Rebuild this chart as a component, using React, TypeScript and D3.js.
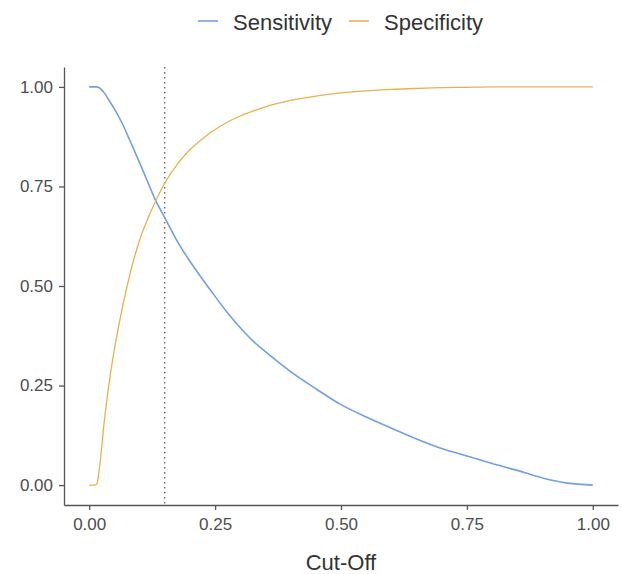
import React, { useEffect, useRef } from 'react';
import * as d3 from 'd3';

// cut-off grid and the two curves
const cutoffs = [0, 0.01, 0.015, 0.02, 0.03, 0.04, 0.05, 0.065, 0.08, 0.1, 0.12, 0.13, 0.15, 0.175, 0.2, 0.225, 0.25, 0.275, 0.3, 0.325, 0.35, 0.4, 0.45, 0.5, 0.55, 0.6, 0.65, 0.7, 0.75, 0.8, 0.85, 0.9, 0.95, 1.0];
const sensitivity = [1.0, 1.0, 1.0, 0.998, 0.985, 0.965, 0.945, 0.91, 0.868, 0.81, 0.75, 0.72, 0.672, 0.612, 0.562, 0.517, 0.474, 0.432, 0.395, 0.362, 0.335, 0.285, 0.242, 0.202, 0.171, 0.143, 0.116, 0.092, 0.073, 0.054, 0.037, 0.018, 0.005, 0.0];
const specificity = [0, 0, 0.002, 0.04, 0.16, 0.26, 0.34, 0.44, 0.525, 0.615, 0.68, 0.708, 0.758, 0.806, 0.842, 0.87, 0.893, 0.912, 0.927, 0.939, 0.95, 0.966, 0.977, 0.985, 0.99, 0.994, 0.996, 0.998, 0.999, 1.0, 1.0, 1.0, 1.0, 1.0];
const ticks = [0, 0.25, 0.5, 0.75, 1.0];
const cutLine = 0.15;

const seriesNames = ['Sensitivity', 'Specificity'];
const colors = ['#739FE3', '#E8B14D'];

export default function App() {
    const ref = useRef<SVGSVGElement>(null);

    useEffect(() => {
        const svg = d3.select(ref.current);
        svg.selectAll('*').remove();

        const left = 64, right = 618, top = 67, bottom = 505;
        const font = '"Liberation Sans", Arial, sans-serif';
        const axisColor = '#555';
        const textColor = '#4d4d4d';

        const x = d3.scaleLinear().domain([-0.05, 1.05]).range([left, right]);
        const y = d3.scaleLinear().domain([-0.05, 1.05]).range([bottom, top]);

        // dotted cut-off line
        svg.append('line')
            .attr('x1', x(cutLine)).attr('x2', x(cutLine))
            .attr('y1', top).attr('y2', bottom)
            .attr('stroke', axisColor)
            .attr('stroke-width', 1.2)
            .attr('stroke-dasharray', '1.5,3.5');

        const line = d3.line<number>()
            .x((d, i) => x(cutoffs[i]))
            .y(d => y(d))
            .curve(d3.curveMonotoneX);

        [sensitivity, specificity].forEach((vals, i) => {
            svg.append('path')
                .attr('d', line(vals))
                .attr('fill', 'none')
                .attr('stroke', colors[i])
                .attr('stroke-width', i === 0 ? 1.6 : 1.3);
        });

        // axes
        const xAxis = svg.append('g')
            .attr('transform', `translate(0,${bottom})`)
            .call(d3.axisBottom(x).tickValues(ticks).tickFormat(d3.format('.2f')).tickSize(5).tickSizeOuter(0).tickPadding(8));
        const yAxis = svg.append('g')
            .attr('transform', `translate(${left},0)`)
            .call(d3.axisLeft(y).tickValues(ticks).tickFormat(d3.format('.2f')).tickSize(5).tickSizeOuter(0).tickPadding(6));

        [xAxis, yAxis].forEach(g => {
            g.select('.domain').attr('stroke', axisColor).attr('stroke-width', 1.3);
            g.selectAll('.tick line').attr('stroke', axisColor).attr('stroke-width', 1.3);
            g.selectAll('.tick text')
                .attr('fill', textColor)
                .style('font-family', font)
                .style('font-size', '17px');
        });

        // axis title
        svg.append('text')
            .attr('x', (left + right) / 2)
            .attr('y', 570)
            .attr('text-anchor', 'middle')
            .attr('fill', '#333')
            .style('font-family', font)
            .style('font-size', '22px')
            .text('Cut-Off');

        // legend
        const keyX = [198, 349];
        seriesNames.forEach((name, i) => {
            svg.append('line')
                .attr('x1', keyX[i]).attr('x2', keyX[i] + 20)
                .attr('y1', 21).attr('y2', 21)
                .attr('stroke', colors[i])
                .attr('stroke-width', 1.6);
            svg.append('text')
                .attr('x', keyX[i] + 35)
                .attr('y', 30)
                .attr('fill', '#333')
                .style('font-family', font)
                .style('font-size', '22px')
                .text(name);
        });
    }, []);

    return (
        <svg ref={ref} width={622} height={574}
            style={{ position: 'absolute', left: 0, top: 0, background: '#fff' }} />
    );
}
